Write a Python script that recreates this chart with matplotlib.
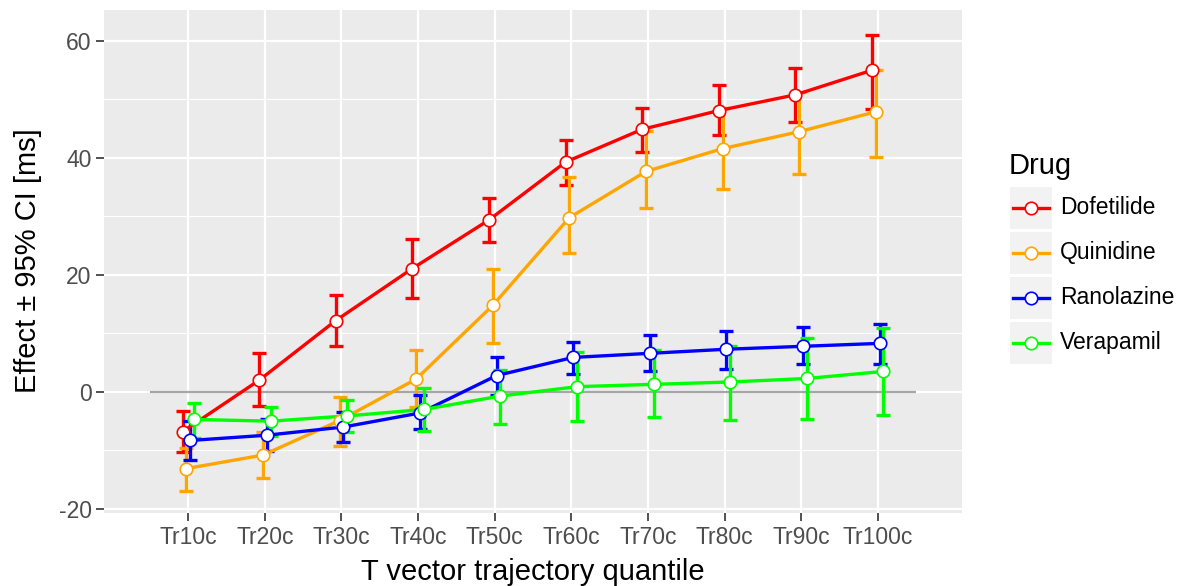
import numpy as np
import matplotlib
matplotlib.use("Agg")
import matplotlib.pyplot as plt
from matplotlib.patches import Rectangle
from matplotlib.lines import Line2D

plt.rcParams['font.family'] = ['Liberation Sans', 'DejaVu Sans']
plt.rcParams['axes.unicode_minus'] = False

quantiles = ['Tr10c', 'Tr20c', 'Tr30c', 'Tr40c', 'Tr50c',
             'Tr60c', 'Tr70c', 'Tr80c', 'Tr90c', 'Tr100c']
drugs = ['Dofetilide', 'Quinidine', 'Ranolazine', 'Verapamil']
colors = ['#FF0000', '#FFA500', '#0000FF', '#00FF00']

# effect estimate and 95% CI per quantile
dofetilide_mean = [-6.8, 2.0, 12.2, 21.1, 29.4, 39.3, 44.9, 48.1, 50.8, 55.0]
dofetilide_lo = [-10.2, -2.4, 7.8, 16.1, 25.7, 35.3, 41.0, 43.9, 46.1, 48.4]
dofetilide_hi = [-3.3, 6.6, 16.6, 26.2, 33.1, 43.1, 48.5, 52.5, 55.4, 61.0]

quinidine_mean = [-13.1, -10.8, -4.9, 2.2, 14.8, 29.8, 37.7, 41.6, 44.5, 47.9]
quinidine_lo = [-16.9, -14.7, -9.3, -2.6, 8.3, 23.7, 31.5, 34.7, 37.2, 40.1]
quinidine_hi = [-9.6, -6.9, -0.9, 7.2, 21.0, 36.8, 44.6, 48.5, 51.2, 55.0]

ranolazine_mean = [-8.3, -7.4, -6.0, -3.6, 2.8, 5.9, 6.6, 7.3, 7.8, 8.3]
ranolazine_lo = [-11.6, -10.1, -8.6, -6.4, -0.6, 3.1, 3.6, 4.0, 4.7, 4.8]
ranolazine_hi = [-4.9, -4.6, -3.5, -0.5, 6.0, 8.5, 9.8, 10.4, 11.1, 11.6]

verapamil_mean = [-4.7, -5.0, -4.1, -3.0, -0.7, 0.9, 1.3, 1.7, 2.3, 3.5]
verapamil_lo = [-7.8, -7.5, -6.9, -6.6, -5.4, -5.0, -4.3, -4.8, -4.6, -3.9]
verapamil_hi = [-1.9, -2.5, -1.3, 0.6, 3.7, 6.8, 7.2, 7.8, 9.2, 10.9]

means = [dofetilide_mean, quinidine_mean, ranolazine_mean, verapamil_mean]
lows = [dofetilide_lo, quinidine_lo, ranolazine_lo, verapamil_lo]
highs = [dofetilide_hi, quinidine_hi, ranolazine_hi, verapamil_hi]

fig = plt.figure(figsize=(11.94, 5.86), dpi=100)
ax = fig.add_axes([104 / 1194, 1 - 513 / 586, (962 - 104) / 1194, (513 - 10) / 586])
ax.set_facecolor('#EBEBEB')
for s in ax.spines.values():
    s.set_visible(False)

x = np.arange(len(quantiles))
dodge = 0.2
offsets = (np.arange(len(drugs)) - (len(drugs) - 1) / 2) * dodge / len(drugs)

# grid
ax.set_yticks([-20, 0, 20, 40, 60])
ax.set_yticks([-10, 10, 30, 50], minor=True)
ax.set_xticks(x)
ax.set_xticklabels(quantiles)
ax.grid(which='major', color='white', linewidth=1.6)
ax.grid(which='minor', axis='y', color='white', linewidth=0.8)
ax.set_axisbelow(True)

ax.hlines(0, -0.5, len(quantiles) - 0.5, color='#A6A6A6', linewidth=1.6, zorder=1.5)

for i, (m, lo, hi, c) in enumerate(zip(means, lows, highs, colors)):
    m = np.array(m)
    xs = x + offsets[i]
    ax.errorbar(xs, m, yerr=[m - np.array(lo), np.array(hi) - m], fmt='none',
                ecolor=c, elinewidth=2.4, capsize=5, capthick=2.4, zorder=2)
for i, (m, c) in enumerate(zip(means, colors)):
    ax.plot(x + offsets[i], m, color=c, linewidth=2.4, zorder=3)
for i, (m, c) in enumerate(zip(means, colors)):
    ax.plot(x + offsets[i], m, linestyle='none', marker='o', markersize=9,
            markerfacecolor='white', markeredgecolor=c, markeredgewidth=1.2, zorder=4)

ax.set_xlim(-1.1, 10.1)
ax.set_ylim(-20.7, 65.3)
ax.tick_params(which='major', length=5.5, width=1.2, color='#333333',
               labelsize=16.5, labelcolor='#4D4D4D', pad=3.5)
ax.tick_params(which='minor', length=0)

fig.text(533 / 1194, 1 - 572 / 586, 'T vector trajectory quantile',
         ha='center', va='center', fontsize=21)
fig.text(28 / 1194, 1 - 261 / 586, 'Effect ± 95% CI [ms]', rotation=90,
         ha='center', va='center', fontsize=21)

# legend
fig.text(1009 / 1194, 1 - 166 / 586, 'Drug', ha='left', va='center', fontsize=21)
for i, (name, c) in enumerate(zip(drugs, colors)):
    top = 187 + i * 45
    fig.patches.append(Rectangle((1010 / 1194, 1 - (top + 42) / 586), 42 / 1194, 42 / 586,
                                 transform=fig.transFigure, facecolor='#F2F2F2',
                                 edgecolor='none'))
    yc = 1 - (top + 21) / 586
    fig.lines.append(Line2D([1013 / 1194, 1049 / 1194], [yc, yc], transform=fig.transFigure,
                            color=c, linewidth=2.4))
    fig.lines.append(Line2D([1031 / 1194], [yc], transform=fig.transFigure, marker='o',
                            markersize=9, markerfacecolor='white', markeredgecolor=c,
                            markeredgewidth=1.2))
    fig.text(1060 / 1194, yc, name, ha='left', va='center', fontsize=16.5)

fig.savefig('out.png', dpi=100)
